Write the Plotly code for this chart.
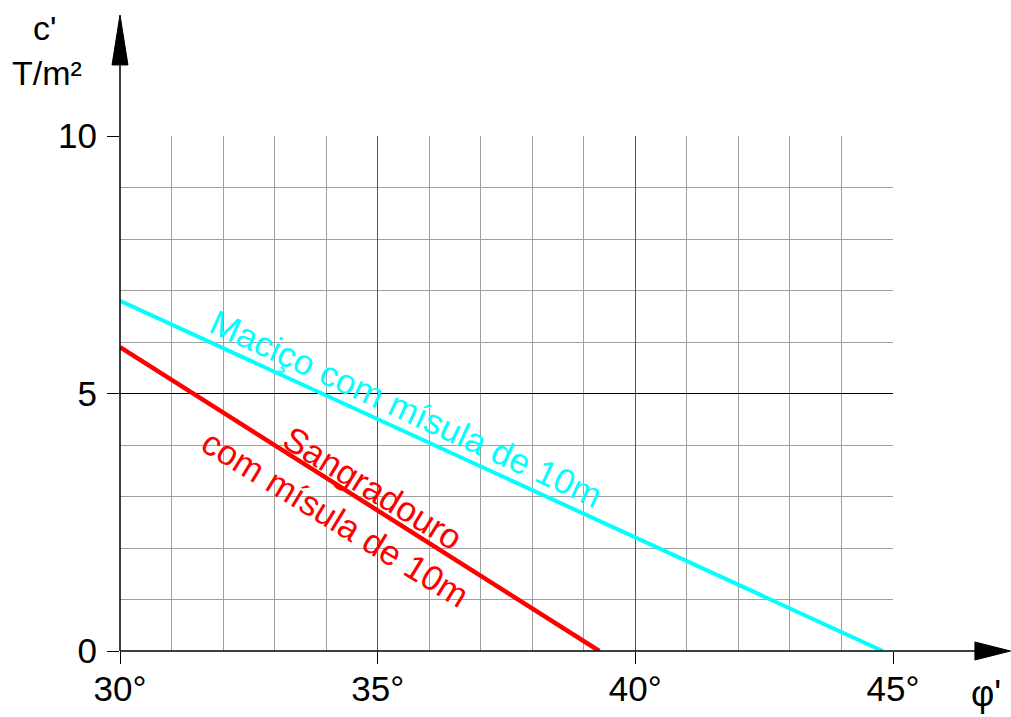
import plotly.graph_objects as go

# Data
maciço_phi = [30, 44.8]
maciço_c = [6.8, 0]
sangradouro_phi = [30, 39.3]
sangradouro_c = [5.9, 0]

x_tickvals = [30, 35, 40, 45]
x_ticktext = ["30°", "35°", "40°", "45°"]
y_tickvals = [0, 5, 10]
y_ticktext = ["0", "5", "10"]

FONT = "Liberation Sans, Arial, sans-serif"

fig = go.Figure()
fig.add_trace(go.Scatter(x=maciço_phi, y=maciço_c, mode="lines",
                         line=dict(color="#00FFFF", width=4), showlegend=False))
fig.add_trace(go.Scatter(x=sangradouro_phi, y=sangradouro_c, mode="lines",
                         line=dict(color="#FF0000", width=4.5), showlegend=False))

fig.update_layout(
    width=1011, height=717,
    margin=dict(l=120, r=118, t=136, b=66, pad=0),
    plot_bgcolor="white", paper_bgcolor="white",
    font=dict(family=FONT, size=35, color="black"),
    showlegend=False,
)
fig.update_xaxes(
    range=[30, 45], tickvals=x_tickvals, ticktext=x_ticktext,
    showgrid=True, gridcolor="#555555", gridwidth=1,
    minor=dict(dtick=1, showgrid=True, gridcolor="#a0a0a0", gridwidth=1),
    ticks="outside", ticklen=12, tickcolor="black", tickwidth=1,
    zeroline=False, showline=False, tickfont=dict(size=35), automargin=False,
    ticklabelstandoff=-5,
)
fig.update_yaxes(
    range=[0, 10], tickvals=y_tickvals, ticktext=y_ticktext,
    showgrid=True, gridcolor="black", gridwidth=1,
    minor=dict(dtick=1, showgrid=True, gridcolor="#a0a0a0", gridwidth=1),
    ticks="outside", ticklen=12, tickcolor="black", tickwidth=1,
    zeroline=False, showline=False, tickfont=dict(size=35), automargin=False,
    ticklabelstandoff=3,
)

# Axis lines with arrows (paper coordinates so nothing is clipped)
fig.add_shape(type="line", xref="paper", yref="paper", x0=0, x1=1.11, y0=0, y1=0,
              line=dict(color="black", width=1.5), layer="above")
fig.add_shape(type="path", xref="paper", yref="paper",
              path="M 1.106,-0.0175 L 1.152,0 L 1.106,0.0175 Z",
              fillcolor="black", line=dict(color="black", width=1), layer="above")
fig.add_shape(type="line", xref="paper", yref="paper", x0=0, x1=0, y0=0, y1=1.14,
              line=dict(color="black", width=1.5), layer="above")
fig.add_shape(type="path", xref="paper", yref="paper",
              path="M -0.0103,1.138 L 0,1.235 L 0.0103,1.138 Z",
              fillcolor="black", line=dict(color="black", width=1), layer="above")

# Axis titles
fig.add_annotation(text="c'", xref="paper", yref="paper", x=-0.097, y=1.21,
                   xanchor="center", yanchor="middle",
                   showarrow=False, font=dict(size=34))
fig.add_annotation(text="T/m²", xref="paper", yref="paper", x=-0.094, y=1.122,
                   xanchor="center", yanchor="middle",
                   showarrow=False, font=dict(size=34))
fig.add_annotation(text="φ'", xref="paper", yref="paper", x=1.12, y=-0.082,
                   xanchor="center", yanchor="middle",
                   showarrow=False, font=dict(size=36))

# Curve labels
fig.add_annotation(text="Maciço com mísula de 10m", x=35.55, y=4.7,
                   showarrow=False, textangle=24.6, font=dict(size=35, color="#00FFFF"))
fig.add_annotation(text="Sangradouro", x=34.9, y=3.18,
                   showarrow=False, textangle=31.5, font=dict(size=35, color="#FF0000"))
fig.add_annotation(text="com mísula de 10m", x=34.19, y=2.58,
                   showarrow=False, textangle=31.5, font=dict(size=35, color="#FF0000"))

fig.write_html("out.html", config={"displayModeBar": False},
               post_script="document.body.style.margin='0';document.body.style.padding='0';document.body.style.overflow='hidden';")
